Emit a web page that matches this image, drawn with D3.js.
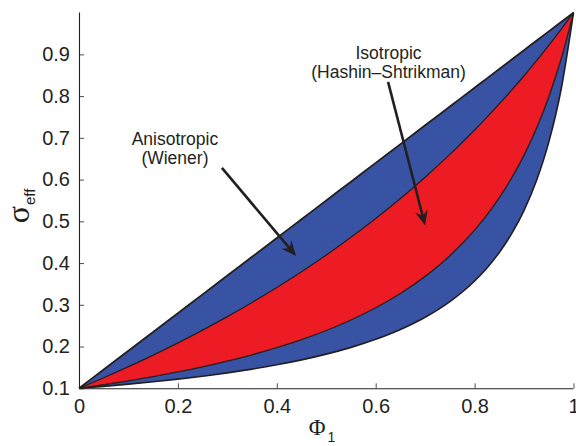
<!DOCTYPE html>
<html><head><meta charset="utf-8">
<script src="https://cdn.jsdelivr.net/npm/d3@7"></script>
<style>body{margin:0;background:#fff}svg{display:block}</style>
</head><body>
<script>
const phi = [0,0.05,0.1,0.15,0.2,0.25,0.3,0.35,0.4,0.45,0.5,0.55,0.6,0.65,0.7,0.75,0.8,0.825,0.85,0.875,0.9,0.925,0.95,0.975,1];
const wienerUpper = [0.1,0.145,0.19,0.235,0.28,0.325,0.37,0.415,0.46,0.505,0.55,0.595,0.64,0.685,0.73,0.775,0.82,0.8425,0.865,0.8875,0.91,0.9325,0.955,0.9775,1];
const wienerLower = [0.1,0.10471,0.10989,0.11561,0.12195,0.12903,0.13699,0.14599,0.15625,0.16807,0.18182,0.19802,0.21739,0.24096,0.27027,0.30769,0.35714,0.38835,0.42553,0.47059,0.52632,0.59701,0.68966,0.81633,1];
const hsUpper = [0.1,0.12532,0.15183,0.17962,0.20879,0.23944,0.27168,0.30564,0.34146,0.37931,0.41935,0.46179,0.50685,0.55477,0.60584,0.66038,0.71875,0.7495,0.78138,0.81443,0.84874,0.88437,0.9214,0.95991,1];
const hsLower = [0.1,0.10853,0.11782,0.12798,0.13913,0.15143,0.16506,0.18025,0.1973,0.21655,0.23846,0.26364,0.29286,0.32718,0.36809,0.41765,0.47895,0.51538,0.55672,0.604,0.65862,0.72243,0.79796,0.88876,1];
const xTicks = [0,0.2,0.4,0.6,0.8,1];
const xTickLabels = ["0","0.2","0.4","0.6","0.8","1"];
const yTicks = [0.1,0.2,0.3,0.4,0.5,0.6,0.7,0.8,0.9];
const yTickLabels = ["0.1","0.2","0.3","0.4","0.5","0.6","0.7","0.8","0.9"];
const annotations = [
  {lines:["Anisotropic","(Wiener)"], tx:0.194, ty:0.683, from:[0.289,0.628], to:[0.439,0.417]},
  {lines:["Isotropic","(Hashin\u2013Shtrikman)"], tx:0.626, ty:0.889, from:[0.625,0.834], to:[0.70,0.49]}
];

const W=576,H=446;
const ink="#231f20", blue="#3953a4", red="#ed1c24";
const svg=d3.select("body").append("svg").attr("width",W).attr("height",H);
const x=d3.scaleLinear().domain([0,1]).range([79,573.5]);
const y=d3.scaleLinear().domain([0.1,1]).range([388.3,12.6]);

const pts = (arr)=>phi.map((p,i)=>[p,arr[i]]);
const band=(lo,hi)=>d3.area().x((d,i)=>x(phi[i])).y0((d,i)=>y(lo[i])).y1((d,i)=>y(hi[i])).curve(d3.curveMonotoneX)(phi);
svg.append("path").attr("d",band(wienerLower,wienerUpper)).attr("fill",blue);
svg.append("path").attr("d",band(hsLower,hsUpper)).attr("fill",red);
const line=d3.line().x(d=>x(d[0])).y(d=>y(d[1])).curve(d3.curveMonotoneX);
[[wienerUpper,1.8],[hsUpper,1.3],[hsLower,1.3],[wienerLower,1.6]].forEach(([a,w])=>{
  svg.append("path").attr("d",line(pts(a))).attr("fill","none").attr("stroke",ink).attr("stroke-width",w).attr("stroke-linejoin","round");
});

// axes
const font="Liberation Sans, Arial, Helvetica, sans-serif";
const xa=svg.append("g").attr("transform",`translate(0,${y(0.1)})`)
  .call(d3.axisBottom(x).tickValues(xTicks).tickFormat((d,i)=>xTickLabels[i]).tickSizeInner(-5).tickSizeOuter(0).tickPadding(11));
const ya=svg.append("g").attr("transform",`translate(${x(0)},0)`)
  .call(d3.axisLeft(y).tickValues(yTicks).tickFormat((d,i)=>yTickLabels[i]).tickSizeInner(-5).tickSizeOuter(0).tickPadding(9));
svg.selectAll(".tick text").attr("font-family",font).attr("font-size",20).attr("fill",ink);
svg.selectAll(".tick line").attr("stroke",ink).attr("stroke-width",0.8);
xa.select(".domain").attr("stroke",ink).attr("stroke-width",1.1);
ya.select(".domain").attr("stroke",ink).attr("stroke-width",1.1).attr("d",`M0.5,${y(1)}V${y(0.1)}`);
xa.select(".domain").attr("d",`M${x(0)},0.5H${x(1)}`);

// axis labels
const xl=svg.append("text").attr("x",322).attr("y",435).attr("text-anchor","middle").attr("fill",ink)
  .attr("font-family","Liberation Serif, Times New Roman, serif").attr("font-size",23);
xl.append("tspan").text("\u03A6");
xl.append("tspan").attr("font-family",font).attr("font-size",14).attr("dy",7).attr("dx",2).text("1");
const yl=svg.append("text").attr("transform","translate(29,206) rotate(-90)").attr("text-anchor","middle").attr("fill",ink)
  .attr("font-family","Liberation Serif, Times New Roman, serif").attr("font-size",32);
yl.append("tspan").text("\u03C3");
yl.append("tspan").attr("font-family",font).attr("font-size",15).attr("dy",6).attr("dx",1).text("eff");

// annotations
annotations.forEach(a=>{
  const t=svg.append("text").attr("text-anchor","middle").attr("fill",ink).attr("font-family",font).attr("font-size",17.5);
  a.lines.forEach((l,i)=>t.append("tspan").attr("x",x(a.tx)).attr("y",y(a.ty)+i*19.5).text(l));
  const x1=x(a.from[0]),y1=y(a.from[1]),x2=x(a.to[0]),y2=y(a.to[1]);
  const ang=Math.atan2(y2-y1,x2-x1), L=15, Wd=6.5, n=10;
  const ux=Math.cos(ang),uy=Math.sin(ang),px=-uy,py=ux;
  svg.append("line").attr("x1",x1).attr("y1",y1).attr("x2",x2-ux*8).attr("y2",y2-uy*8).attr("stroke",ink).attr("stroke-width",2.6);
  const head=[[x2,y2],[x2-ux*L+px*Wd,y2-uy*L+py*Wd],[x2-ux*n,y2-uy*n],[x2-ux*L-px*Wd,y2-uy*L-py*Wd]];
  svg.append("path").attr("d","M"+head.map(p=>p.join(",")).join("L")+"Z").attr("fill",ink);
});
</script>
</body></html>
